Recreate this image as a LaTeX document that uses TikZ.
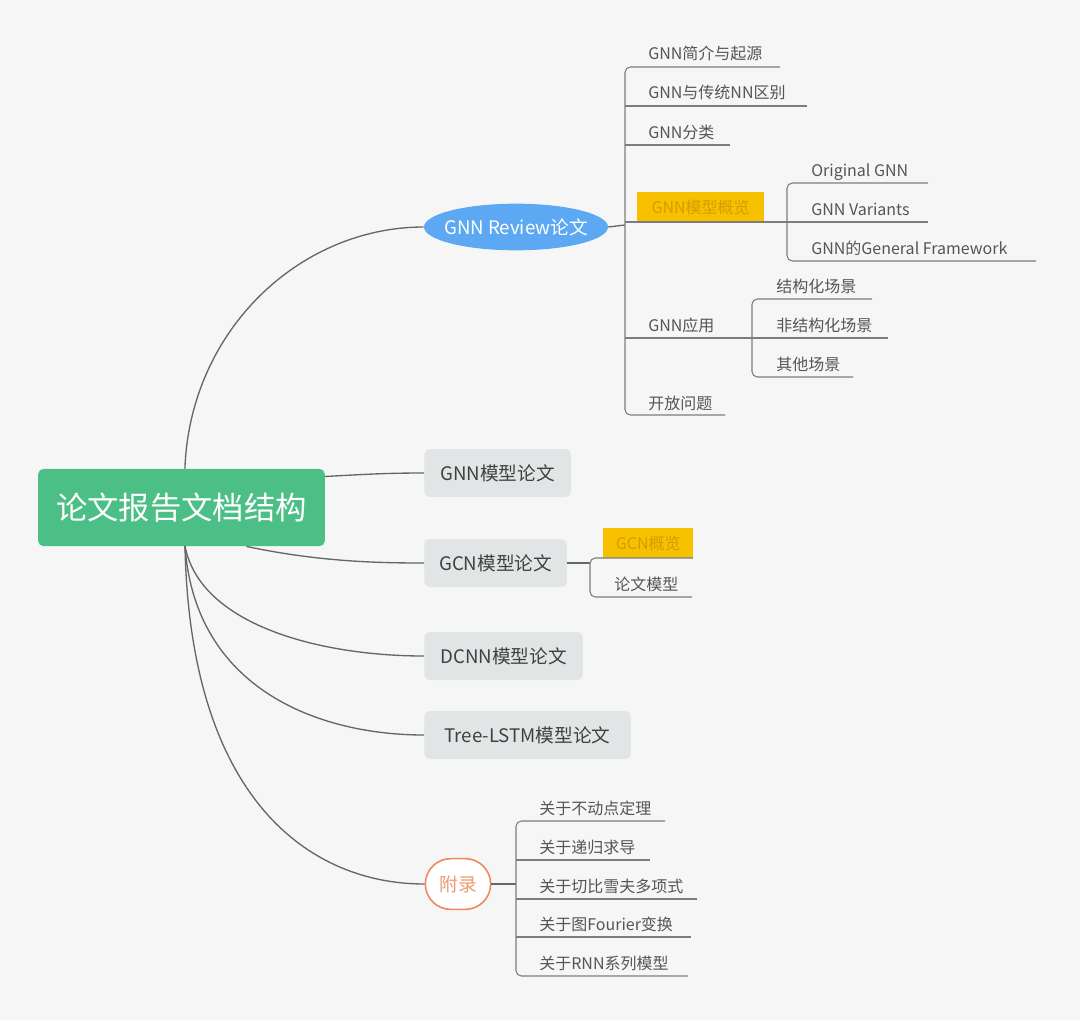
\documentclass[tikz,border=0pt]{standalone}
\usepackage{fontspec}
\setmainfont{Noto Sans CJK SC}
\usetikzlibrary{shapes.geometric}
\definecolor{bgc}{HTML}{F6F6F6}
\definecolor{rootg}{HTML}{4CBF86}
\definecolor{revblue}{HTML}{5DA8F2}
\definecolor{boxgray}{HTML}{E2E5E5}
\definecolor{linec}{HTML}{666666}
\definecolor{leafc}{HTML}{555555}
\definecolor{hlyel}{HTML}{F7C100}
\definecolor{hltext}{HTML}{D49C00}
\definecolor{orangeb}{HTML}{F08A5D}
\definecolor{oranget}{HTML}{EE9A72}
\tikzset{
  x=0.75pt, y=-0.75pt,
  conn/.style={draw=linec, line width=1pt},
  branch/.style={draw=linec!85, line width=0.8pt, rounded corners=4pt},
  leaf/.style={anchor=base west, inner sep=0pt, text=leafc, font=\fontsize{12}{14}\selectfont},
  hl/.style={anchor=south west, fill=hlyel, text=hltext, inner xsep=8pt, inner ysep=4pt, font=\fontsize{12}{14}\selectfont, minimum height=22pt},
  topic/.style={fill=boxgray, rounded corners=4pt, text=black!75, font=\fontsize{14}{16}\selectfont, anchor=west, inner xsep=9pt, minimum height=36pt},
}
\begin{document}
\begin{tikzpicture}
\fill[bgc] (0,0) rectangle (1080,1020);
\useasboundingbox (0,0) rectangle (1080,1020);

% root
\node[fill=rootg, rounded corners=4pt, text=white, minimum width=215pt, minimum height=58pt,
  font=\fontsize{23.5}{28}\selectfont] (root) at (181.5,507.5) {论文报告文档结构};

% level-1
\node[ellipse, fill=revblue, text=white, minimum width=138pt, minimum height=35pt, inner xsep=-14pt, inner ysep=4pt,
  font=\fontsize{14}{16}\selectfont] (rev) at (516,227) {GNN Review论文};
\node[topic, minimum width=110pt] (gnnm) at (424,473) {GNN模型论文};
\node[topic, minimum width=107pt] (gcnm) at (424,563) {GCN模型论文};
\node[topic, minimum width=119pt] (dcnn) at (424,656) {DCNN模型论文};
\node[topic, minimum width=155pt] (tree) at (424,735) {Tree-LSTM模型论文};
\node[draw=orangeb, line width=1.2pt, fill=white, rounded corners=19pt, text=oranget,
  minimum width=49pt, minimum height=38pt, font=\fontsize{14}{16}\selectfont] (app) at (458,884) {附录};

% root connectors
\draw[conn] (root.north west) ++(147,0) coordinate (rt)
  (rt) .. controls (190,330) and (300,227) .. (rev.west);
\draw[conn] (root.east) ++(0,-31) coordinate (re) (re) .. controls (370,474) and (390,473) .. (gnnm.west);
\draw[conn] (root.south) ++(65,0) coordinate (rs1) (rs1) .. controls (320,562) and (380,563) .. (gcnm.west);
\coordinate (rs) at (185,546);
\draw[conn] (rs) .. controls (200,625) and (320,656) .. (dcnn.west);
\draw[conn] (rs) .. controls (195,690) and (320,735) .. (tree.west);
\draw[conn] (rs) .. controls (190,800) and (310,884) .. (app.west);

% ---------- GNN Review children ----------
\coordinate (bus1) at (625,225);
\draw[conn] (rev.east) -- (bus1);
\node[leaf] (a1) at (648,60) {GNN简介与起源};
\node[leaf] (a2) at (648,99) {GNN与传统NN区别};
\node[leaf] (a3) at (648,138) {GNN分类};
\node[hl, minimum width=95pt] (a4) at (637,222) {GNN模型概览};
\node[leaf] (a5) at (648,331) {GNN应用};
\node[leaf] (a6) at (648,409) {开放问题};
\coordinate (a1e) at (780,67);
\coordinate (a2e) at (807,106);
\coordinate (a3e) at (730,145);
\coordinate (a4e) at (787,222);
\coordinate (a5e) at (752,338);
\coordinate (a6e) at (725,415);
\draw[branch] (a1e) -- (625,67) -- (625,415) -- (a6e);
\draw[branch] (625,106) -- (a2e);
\draw[branch] (625,145) -- (a3e);
\draw[branch] (625,222) -- (a4e);
\draw[branch] (625,338) -- (a5e);

% GNN模型概览 children
\node[leaf] (b1) at (811,176) {Original GNN};
\node[leaf] (b2) at (811,215) {GNN Variants};
\node[leaf] (b3) at (811,254) {GNN的General Framework};
\coordinate (b1e) at (928,183);
\coordinate (b2e) at (928,222);
\coordinate (b3e) at (1036,261);
\draw[branch] (b1e) -- (787,183) -- (787,261) -- (b3e);
\draw[branch] (a4e) -- (b2e);

% GNN应用 children
\node[leaf] (c1) at (776,292) {结构化场景};
\node[leaf] (c2) at (776,331) {非结构化场景};
\node[leaf] (c3) at (776,370) {其他场景};
\coordinate (c1e) at (872,299);
\coordinate (c2e) at (888,338);
\coordinate (c3e) at (853,377);
\draw[branch] (c1e) -- (752,299) -- (752,377) -- (c3e);
\draw[branch] (a5e) -- (c2e);

% ---------- GCN children ----------
\coordinate (bus2) at (590,563);
\draw[conn] (gcnm.east) -- (bus2);
\node[hl, minimum width=67.5pt] (d1) at (603,558) {GCN概览};
\node[leaf] (d2) at (614,590) {论文模型};
\coordinate (d1e) at (693,558);
\coordinate (d2e) at (692,597);
\draw[branch] (d1e) -- (590,558) -- (590,597) -- (d2e);

% ---------- 附录 children ----------
\coordinate (bus3) at (516,884);
\draw[conn] (app.east) -- (bus3);
\node[leaf] (e1) at (539,814) {关于不动点定理};
\node[leaf] (e2) at (539,853) {关于递归求导};
\node[leaf] (e3) at (539,892) {关于切比雪夫多项式};
\node[leaf] (e4) at (539,930) {关于图Fourier变换};
\node[leaf] (e5) at (539,969) {关于RNN系列模型};
\coordinate (e1e) at (665,821);
\coordinate (e2e) at (650,860);
\coordinate (e3e) at (697,899);
\coordinate (e4e) at (691,937);
\coordinate (e5e) at (688,976);
\draw[branch] (e1e) -- (516,821) -- (516,976) -- (e5e);
\draw[branch] (516,860) -- (e2e);
\draw[branch] (516,899) -- (e3e);
\draw[branch] (516,937) -- (e4e);
\end{tikzpicture}
\end{document}
